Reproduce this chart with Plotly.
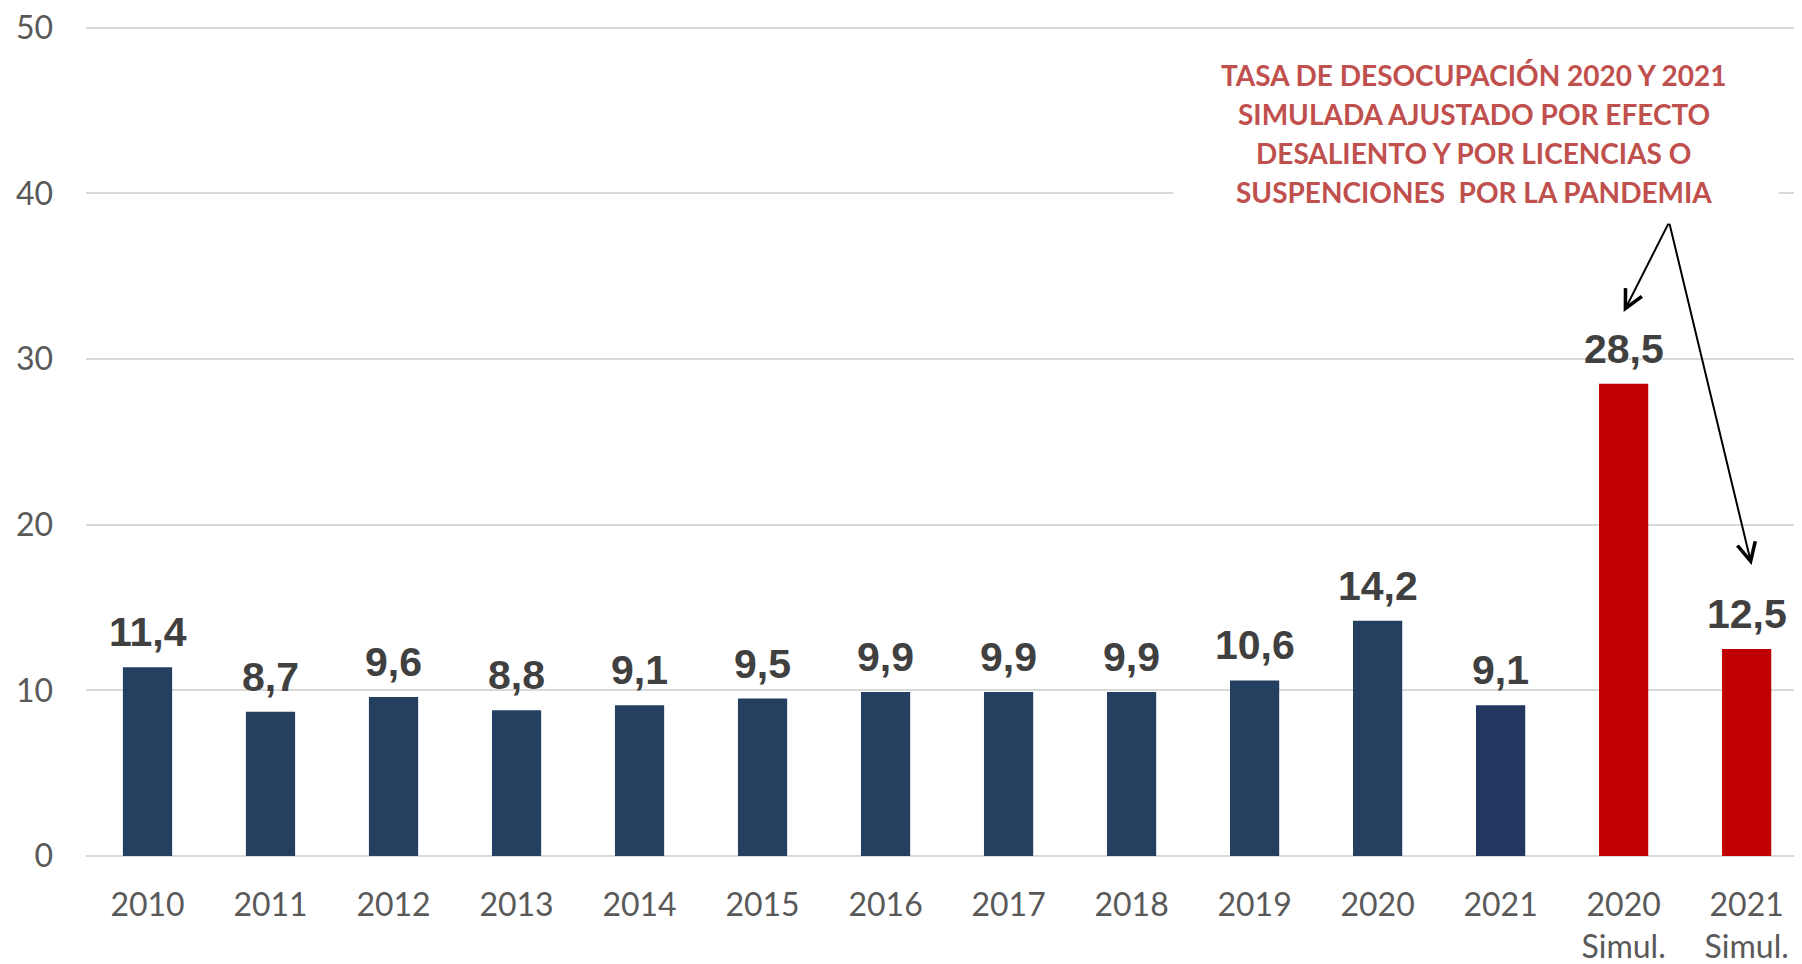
import plotly.graph_objects as go

# ---- data ----
categories = ["2010", "2011", "2012", "2013", "2014", "2015", "2016", "2017",
              "2018", "2019", "2020", "2021", "2020<br>Simul.", "2021<br>Simul."]
values = [11.4, 8.7, 9.6, 8.8, 9.1, 9.5, 9.9, 9.9, 9.9, 10.6, 14.2, 9.1, 28.5, 12.5]
bar_colors = ["#243F60"] * 11 + ["#21375F", "#C00000", "#C00000"]
y_ticks = [0, 10, 20, 30, 40, 50]
note_lines = ["TASA DE DESOCUPACIÓN 2020 Y 2021",
              "SIMULADA AJUSTADO POR EFECTO",
              "DESALIENTO Y POR LICENCIAS O",
              "SUSPENCIONES  POR LA PANDEMIA"]

labels = [f"{v:.1f}".replace(".", ",") for v in values]

fig = go.Figure()
fig.add_trace(go.Bar(
    x=categories, y=values,
    marker=dict(color=bar_colors, line=dict(width=0)),
    width=0.4,
    hoverinfo="skip",
))

# value labels (x given as category index)
for i, (v, t) in enumerate(zip(values, labels)):
    fig.add_annotation(
        x=i, y=v, xref="x", yref="y", text=t, showarrow=False,
        yanchor="bottom", yshift=10,
        font=dict(family="Liberation Sans", size=41, color="#404040", weight="bold"),
    )

# note box (white background hiding gridline)
fig.add_shape(type="rect", xref="x", yref="y", x0=8.34, x1=13.26, y0=37.2, y1=48.6,
              fillcolor="white", line=dict(width=0), layer="between")
note_y = [47.13, 44.78, 42.43, 40.07]
for line, yy in zip(note_lines, note_y):
    fig.add_annotation(
        x=10.78, y=yy, xref="x", yref="y", text=line, showarrow=False,
        xanchor="center", yanchor="middle",
        font=dict(family="Lato", size=28, color="#C0504D", weight="bold"),
    )

# arrows
for tipx, tipy in [(12.0, 32.83), (13.04, 17.56)]:
    fig.add_annotation(
        x=tipx, y=tipy, xref="x", yref="y",
        ax=12.37, ay=38.26, axref="x", ayref="y",
        text="", showarrow=True, arrowhead=5, arrowsize=1.8,
        arrowwidth=2, arrowcolor="black", standoff=0, startstandoff=0,
    )

fig.update_layout(
    width=1802, height=964,
    margin=dict(l=78, r=8, t=18, b=116),
    plot_bgcolor="white", paper_bgcolor="white",
    showlegend=False,
    font=dict(family="Lato", color="#595959"),
    xaxis=dict(
        type="category", range=[-0.5, 13.45], automargin=False,
        tickfont=dict(family="Lato", size=32, color="#595959"),
        showgrid=False, showline=False, ticks="", ticklabelstandoff=27,
    ),
    yaxis=dict(
        range=[0, 50.1], tickmode="array", tickvals=y_ticks, automargin=False,
        tickfont=dict(family="Lato", size=32, color="#595959"),
        gridcolor="#D9D9D9", gridwidth=1.5,
        zeroline=True, zerolinecolor="#D9D9D9", zerolinewidth=1.5,
        showline=False, ticks="", ticklabelstandoff=32,
        ticklabeloverflow="allow",
    ),
)

fig.write_html("out.html")
